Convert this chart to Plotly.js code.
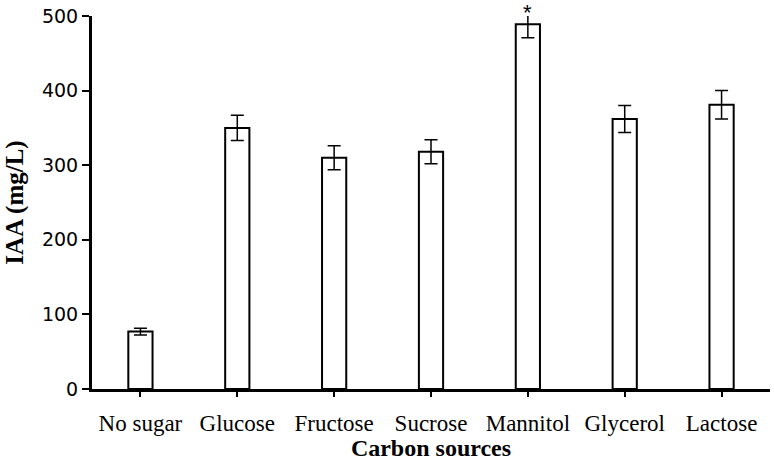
<!DOCTYPE html>
<html>
<head>
<meta charset="utf-8">
<script src="https://cdn.plot.ly/plotly-3.0.1.min.js"></script>
<style>
  body { margin: 0; background: #fff; }
  #chart { width: 774px; height: 461px; }
</style>
</head>
<body>
<div id="chart"></div>
<script>
var sources = ['No sugar', 'Glucose', 'Fructose', 'Sucrose', 'Mannitol', 'Glycerol', 'Lactose'];
var iaa = [77, 350, 310, 318, 489, 362, 381];
var iaaErr = [4.5, 17, 16, 16, 18, 18, 19];
var starred = ['Mannitol'];
var yMax = 500;

var trace1 = {
  x: sources,
  y: iaa,
  type: 'bar',
  width: 0.25,
  marker: { color: 'white', line: { color: 'black', width: 2 } },
  error_y: { type: 'data', array: iaaErr, visible: true, color: 'black', thickness: 1.5, width: 6.5 },
  hoverinfo: 'x+y'
};

// asterisk just above the error bar (paper y so it isn't hidden when above the range)
var annos = starred.map(function (s) {
  var i = sources.indexOf(s);
  return {
    x: s, yref: 'paper', y: (iaa[i] + iaaErr[i]) / yMax, text: '*', showarrow: false,
    yanchor: 'middle', yshift: -2,
    font: { family: 'Liberation Sans', size: 22, color: 'black' }
  };
});

var layout = {
  width: 774,
  height: 461,
  margin: { l: 92, r: 4, t: 16, b: 72 },
  paper_bgcolor: 'white',
  plot_bgcolor: 'white',
  showlegend: false,
  xaxis: {
    range: [-0.5, 6.5],
    showline: true, linecolor: 'black', linewidth: 3,
    ticks: 'outside', ticklen: 5, tickwidth: 2, tickcolor: 'black',
    ticklabelstandoff: 6,
    tickfont: { family: 'Liberation Serif', size: 23, color: 'black' },
    title: { text: '<b>Carbon sources</b>', standoff: 4,
             font: { family: 'Liberation Serif', size: 24, color: 'black' } },
    showgrid: false, zeroline: false, fixedrange: true
  },
  yaxis: {
    range: [0, yMax],
    tickvals: [0, 100, 200, 300, 400, 500],
    showline: true, linecolor: 'black', linewidth: 3,
    ticks: 'outside', ticklen: 7, tickwidth: 2, tickcolor: 'black',
    tickfont: { family: 'DejaVu Sans', size: 19, color: 'black' },
    title: { text: '<b>IAA (mg/L)</b>', standoff: 12,
             font: { family: 'Liberation Serif', size: 25, color: 'black' } },
    showgrid: false, zeroline: false, fixedrange: true
  },
  annotations: annos
};

Plotly.newPlot('chart', [trace1], layout, { displayModeBar: false, staticPlot: true });
</script>
</body>
</html>
